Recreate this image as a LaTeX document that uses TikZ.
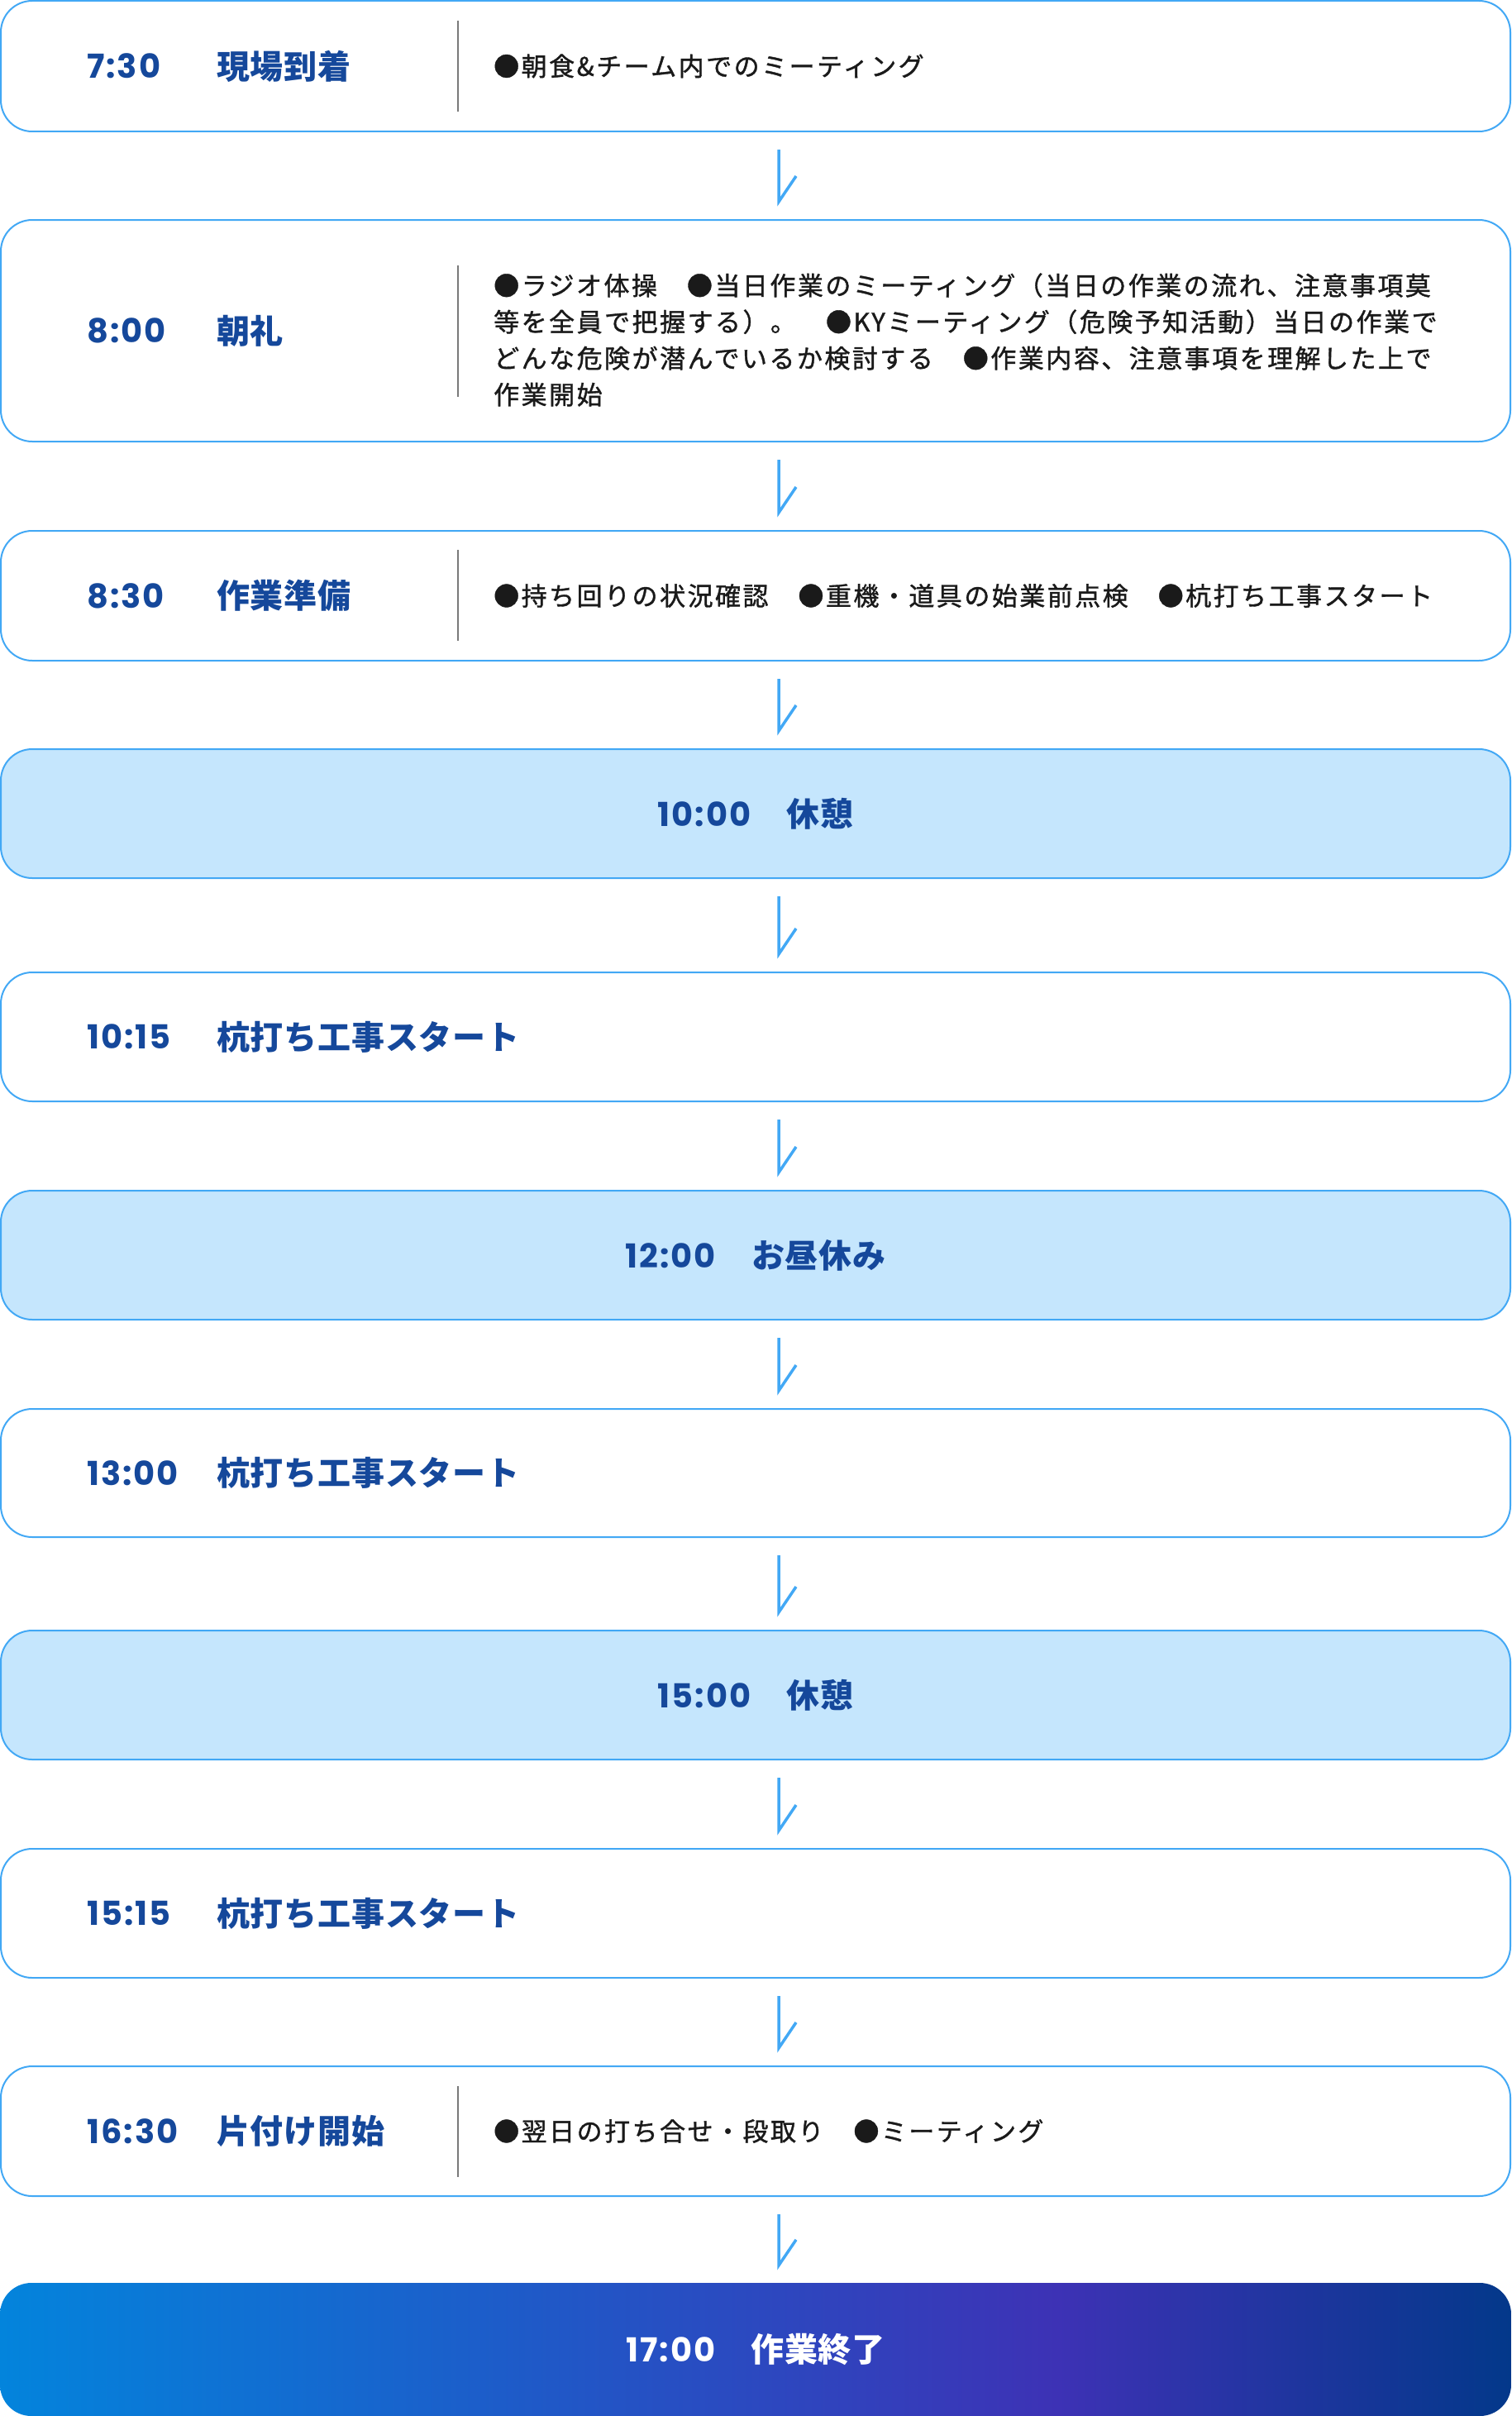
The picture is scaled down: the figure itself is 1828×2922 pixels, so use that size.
\documentclass[tikz,border=0pt]{standalone}
\usepackage{fontspec}
\setmainfont{Noto Sans CJK JP}
\newfontfamily\numfont{Poppins}[LetterSpace=5]
\newfontfamily\bodyfont{Noto Sans CJK JP}[LetterSpace=8,FakeBold=1.2]
\newfontfamily\titlefont{Noto Sans CJK JP}[LetterSpace=2]
\usetikzlibrary{calc}
\definecolor{bordc}{HTML}{42A8F5}
\definecolor{lightc}{HTML}{C5E6FD}
\definecolor{navy}{HTML}{15489B}
\definecolor{ink}{HTML}{1A1A1A}
\definecolor{divc}{HTML}{7A7A7A}
\definecolor{gA}{HTML}{0384DC}
\definecolor{gB}{HTML}{1D5CC9}
\definecolor{gC}{HTML}{3D32B5}
\definecolor{gD}{HTML}{03388A}
\pgfdeclarehorizontalshading{endgrad}{100bp}{color(0bp)=(gA); color(25bp)=(gA); color(41.5bp)=(gB); color(60bp)=(gC); color(75bp)=(gD); color(100bp)=(gD)}
\begin{document}
\begin{tikzpicture}[x=1pt,y=-1pt,
  box/.style={draw=bordc, line width=2pt, rounded corners=38pt, minimum width=1826pt, inner sep=0pt, fill=white},
  softbox/.style={box, fill=lightc},
  endbox/.style={shade, shading=endgrad, rounded corners=38pt, minimum width=1828pt, minimum height=161pt, inner sep=0pt},
  timetxt/.style={inner sep=0pt, anchor=west, text=navy, font={\numfont\bfseries\fontsize{40}{48}\selectfont}},
  titletxt/.style={inner sep=0pt, anchor=west, text=navy, font={\titlefont\bfseries\fontsize{40}{48}\selectfont}},
  midtxt/.style={inner sep=0pt, text=navy, font={\titlefont\bfseries\fontsize{40}{48}\selectfont}},
  bodytxt/.style={inner sep=0pt, anchor=west, align=left, text=ink, font={\bodyfont\fontsize{31}{44}\selectfont}},
  divider/.style={draw=divc, line width=1.5pt},
  arr/.style={draw=bordc, line width=3.5pt, line join=miter}
]
\useasboundingbox (0,0) rectangle (1828,2922);
% boxes
\node[box, minimum height=158pt] (b1) at (914,80) {};
\node[box, minimum height=268pt] (b2) at (914,400) {};
\node[box, minimum height=157pt] (b3) at (914,720.5) {};
\node[softbox, minimum height=156pt] (b4) at (914,984) {};
\node[box, minimum height=156pt] (b5) at (914,1254) {};
\node[softbox, minimum height=156pt] (b6) at (914,1518) {};
\node[box, minimum height=155pt] (b7) at (914,1781.5) {};
\node[softbox, minimum height=156pt] (b8) at (914,2050) {};
\node[box, minimum height=156pt] (b9) at (914,2314) {};
\node[box, minimum height=157pt] (b10) at (914,2577.5) {};
\node[endbox] (b11) at (914,2841.5) {};
% arrows
\foreach \a/\b in {b1/b2,b2/b3,b3/b4,b4/b5,b5/b6,b6/b7,b7/b8,b8/b9,b9/b10,b10/b11}{
  \draw[arr] ($(\a.south)+(28,21)$) -- ($(\b.north)+(28,-21)$) -- ++(21,-31);
}
% box 1
\node[timetxt] (t1) at (105,80) {7:30};
\node[titletxt] (h1) at (262,80) {現場到着};
\draw[divider] (554,25) -- (554,135);
\node[bodytxt] (d1) at (597,80) {●朝食\&チーム内でのミーティング};
% box 2
\node[timetxt] (t2) at (105,400) {8:00};
\node[titletxt] (h2) at (262,400) {朝礼};
\draw[divider] (554,321) -- (554,480);
\node[bodytxt] (d2) at (597,411) {●ラジオ体操　●当日作業のミーティング（当日の作業の流れ、注意事項莫\\等を全員で把握する）。　●KYミーティング（危険予知活動）当日の作業で\\どんな危険が潜んでいるか検討する　●作業内容、注意事項を理解した上で\\作業開始};
% box 3
\node[timetxt] (t3) at (105,720.5) {8:30};
\node[titletxt] (h3) at (262,720.5) {作業準備};
\draw[divider] (554,665) -- (554,775);
\node[bodytxt] (d3) at (597,720.5) {●持ち回りの状況確認　●重機・道具の始業前点検　●杭打ち工事スタート};
% box 4
\node[midtxt] (m4) at (914,984) {{\numfont 10:00}\hspace{43pt}休憩};
% box 5
\node[timetxt] (t5) at (105,1254) {10:15};
\node[titletxt] (h5) at (262,1254) {杭打ち工事スタート};
% box 6
\node[midtxt] (m6) at (914,1518) {{\numfont 12:00}\hspace{43pt}お昼休み};
% box 7
\node[timetxt] (t7) at (105,1781.5) {13:00};
\node[titletxt] (h7) at (262,1781.5) {杭打ち工事スタート};
% box 8
\node[midtxt] (m8) at (914,2050) {{\numfont 15:00}\hspace{43pt}休憩};
% box 9
\node[timetxt] (t9) at (105,2314) {15:15};
\node[titletxt] (h9) at (262,2314) {杭打ち工事スタート};
% box 10
\node[timetxt] (t10) at (105,2577.5) {16:30};
\node[titletxt] (h10) at (262,2577.5) {片付け開始};
\draw[divider] (554,2523) -- (554,2633);
\node[bodytxt] (d10) at (597,2577.5) {●翌日の打ち合せ・段取り　●ミーティング};
% box 11
\node[midtxt, text=white] (m11) at (914,2841.5) {{\numfont 17:00}\hspace{43pt}作業終了};
\end{tikzpicture}
\end{document}
